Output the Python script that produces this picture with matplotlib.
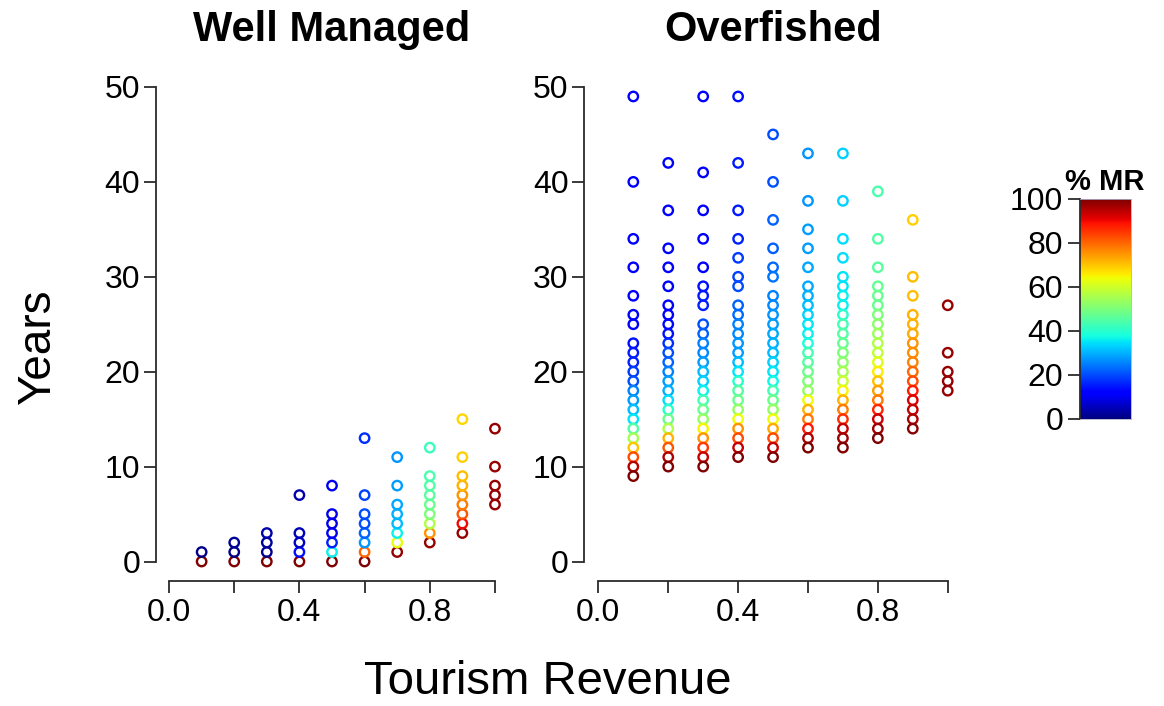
"""Years-to-target scatter for two fishery states, coloured by % MR."""

import matplotlib
matplotlib.use("Agg")
import matplotlib.pyplot as plt
import numpy as np

plt.rcParams["font.family"] = ["Liberation Sans", "DejaVu Sans"]

REVENUE = [0.1, 0.2, 0.3, 0.4, 0.5, 0.6, 0.7, 0.8, 0.9, 1.0]

# Well managed: years per revenue level, and % MR of each point
WELL_YEARS = [
    [0, 1],
    [0, 1, 2],
    [0, 1, 2, 3],
    [0, 1, 2, 3, 7],
    [0, 1, 2, 3, 4, 5, 8],
    [0, 1, 2, 3, 4, 5, 7, 13],
    [1, 2, 3, 4, 5, 6, 8, 11],
    [2, 3, 4, 5, 6, 7, 8, 9, 12],
    [3, 4, 5, 6, 7, 8, 9, 11, 15],
    [6, 7, 8, 10, 14],
]
WELL_MR = [
    [100, 1],
    [100, 1, 2],
    [100, 2, 3, 4],
    [100, 14, 6, 5, 4],
    [100, 36, 16, 10, 9, 9, 10],
    [100, 80, 27, 22, 20, 20, 19, 17],
    [98, 63, 36, 31, 30, 29, 28, 27],
    [98, 75, 56, 50, 48, 46, 45, 44, 42],
    [98, 90, 82, 78, 75, 72, 71, 69, 68],
    [98, 98, 98, 98, 98],
]

# Overfished
OVER_YEARS = [
    [49, 40, 34, 31, 28, 26, 25, 23, 22, 21, 20, 19, 18, 17, 16, 15, 14, 13, 12, 11, 10, 9],
    [42, 37, 33, 31, 29, 27, 26, 25, 24, 23, 22, 21, 20, 19, 18, 17, 16, 15, 14, 13, 12, 11, 10],
    [49, 41, 37, 34, 31, 29, 28, 27, 25, 24, 23, 22, 21, 20, 19, 18, 17, 16, 15, 14, 13, 12, 11, 10],
    [49, 42, 37, 34, 32, 30, 29, 27, 26, 25, 24, 23, 22, 21, 20, 19, 18, 17, 16, 15, 14, 13, 12, 11],
    [45, 40, 36, 33, 31, 30, 28, 27, 26, 25, 24, 23, 22, 21, 20, 19, 18, 17, 16, 15, 14, 13, 12, 11],
    [43, 38, 35, 33, 31, 29, 28, 27, 26, 25, 24, 23, 22, 21, 20, 19, 18, 17, 16, 15, 14, 13, 12],
    [43, 38, 34, 32, 30, 29, 28, 27, 26, 25, 24, 23, 22, 21, 20, 19, 18, 17, 16, 15, 14, 13, 12],
    [39, 34, 31, 29, 28, 27, 26, 25, 24, 23, 22, 21, 20, 19, 18, 17, 16, 15, 14, 13],
    [36, 30, 28, 26, 25, 24, 23, 22, 21, 20, 19, 18, 17, 16, 15, 14],
    [27, 22, 20, 19, 18],
]
OVER_MR = [
    [11, 11, 11, 11, 11, 12, 12, 14, 15, 16, 18, 20, 25, 28, 31, 35, 45, 55, 70, 83, 95, 100],
    [11, 11, 11, 11, 12, 12, 12, 13, 14, 17, 20, 22, 25, 28, 30, 34, 40, 48, 56, 72, 82, 96, 100],
    [11, 11, 11, 11, 12, 14, 15, 16, 20, 22, 25, 26, 28, 31, 33, 36, 43, 48, 53, 65, 75, 85, 94, 100],
    [14, 15, 15, 16, 18, 19, 20, 22, 23, 25, 26, 27, 28, 31, 35, 40, 45, 48, 53, 64, 75, 83, 94, 100],
    [20, 20, 22, 22, 23, 24, 25, 26, 27, 28, 29, 30, 31, 33, 35, 37, 43, 48, 53, 64, 73, 83, 94, 100],
    [27, 27, 28, 28, 29, 29, 30, 31, 33, 35, 36, 38, 43, 45, 48, 50, 53, 64, 72, 78, 88, 96, 100],
    [33, 33, 34, 34, 35, 35, 36, 36, 40, 43, 45, 47, 50, 52, 55, 59, 65, 72, 78, 86, 94, 97, 100],
    [44, 45, 46, 47, 48, 48, 50, 52, 54, 56, 58, 62, 66, 70, 74, 78, 87, 93, 97, 100],
    [69, 71, 71, 72, 72, 73, 75, 76, 77, 80, 83, 88, 92, 94, 96, 99],
    [98, 98, 98, 98, 98],
]

X_TICKS = [0.0, 0.2, 0.4, 0.6, 0.8, 1.0]
X_TICK_LABELS = ["0.0", "", "0.4", "", "0.8", ""]
Y_TICKS = [0, 10, 20, 30, 40, 50]
CB_TICKS = [0, 20, 40, 60, 80, 100]

AXIS_COLOR = "#2b2b2b"
TICK_SIZE = 23
cmap = plt.cm.jet


def style_axes(ax):
    for side in ("top", "right"):
        ax.spines[side].set_visible(False)
    for side in ("left", "bottom"):
        ax.spines[side].set_color(AXIS_COLOR)
        ax.spines[side].set_linewidth(1.3)
    ax.spines["left"].set_bounds(0, 50)
    ax.spines["bottom"].set_bounds(0, 1)
    ax.set_xlim(-0.04, 1.04)
    ax.set_ylim(-2, 52)
    ax.set_xticks(X_TICKS)
    ax.set_xticklabels(X_TICK_LABELS)
    ax.set_yticks(Y_TICKS)
    ax.tick_params(direction="out", length=8.5, width=1.3, color=AXIS_COLOR,
                   labelsize=TICK_SIZE, pad=3)
    ax.tick_params(axis="x", pad=4)


def draw_panel(ax, years, mr):
    for rev, ys, ms in zip(REVENUE, years, mr):
        cols = cmap(np.array(ms) / 100.0)
        ax.scatter(np.full(len(ys), rev), ys, s=46, facecolors="none",
                   edgecolors=cols, linewidths=1.7, zorder=3)
    style_axes(ax)


fig = plt.figure(figsize=(11.64, 7.06), dpi=100)
W, H = 1164, 706

ax_well = fig.add_axes([156 / W, 1 - 580.5 / H, 352 / W, 512.5 / H])
ax_over = fig.add_axes([584.4 / W, 1 - 580.5 / H, 377.3 / W, 512.5 / H])
draw_panel(ax_well, WELL_YEARS, WELL_MR)
draw_panel(ax_over, OVER_YEARS, OVER_MR)

fig.text(332 / W, 1 - 30 / H, "Well Managed", ha="center", va="center",
         fontsize=30, fontweight="bold")
fig.text(773 / W, 1 - 30 / H, "Overfished", ha="center", va="center",
         fontsize=30, fontweight="bold")
fig.text(38 / W, 1 - 347 / H, "Years", ha="center", va="center",
         rotation=90, fontsize=33)
fig.text(548 / W, 1 - 682 / H, "Tourism Revenue", ha="center", va="center",
         fontsize=34)

# colour key
ax_cb = fig.add_axes([1080 / W, 1 - 419 / H, 51 / W, 220 / H])
grad = np.linspace(0, 100, 256).reshape(-1, 1)
ax_cb.imshow(grad, cmap=cmap, aspect="auto", origin="lower",
             extent=[0, 1, 0, 100])
ax_cb.set_xlim(0, 1)
ax_cb.set_ylim(0, 100)
ax_cb.set_xticks([])
ax_cb.set_yticks(CB_TICKS)
for side in ("top", "right", "bottom"):
    ax_cb.spines[side].set_color("#b0b0c8")
    ax_cb.spines[side].set_linewidth(0.6)
ax_cb.spines["left"].set_color(AXIS_COLOR)
ax_cb.spines["left"].set_linewidth(1.3)
ax_cb.tick_params(direction="out", length=9, width=1.3, color=AXIS_COLOR,
                  labelsize=TICK_SIZE, pad=3)
fig.text(1105 / W, 1 - 182 / H, "% MR", ha="center", va="center",
         fontsize=21, fontweight="bold")

fig.savefig("out.png", dpi=100)
